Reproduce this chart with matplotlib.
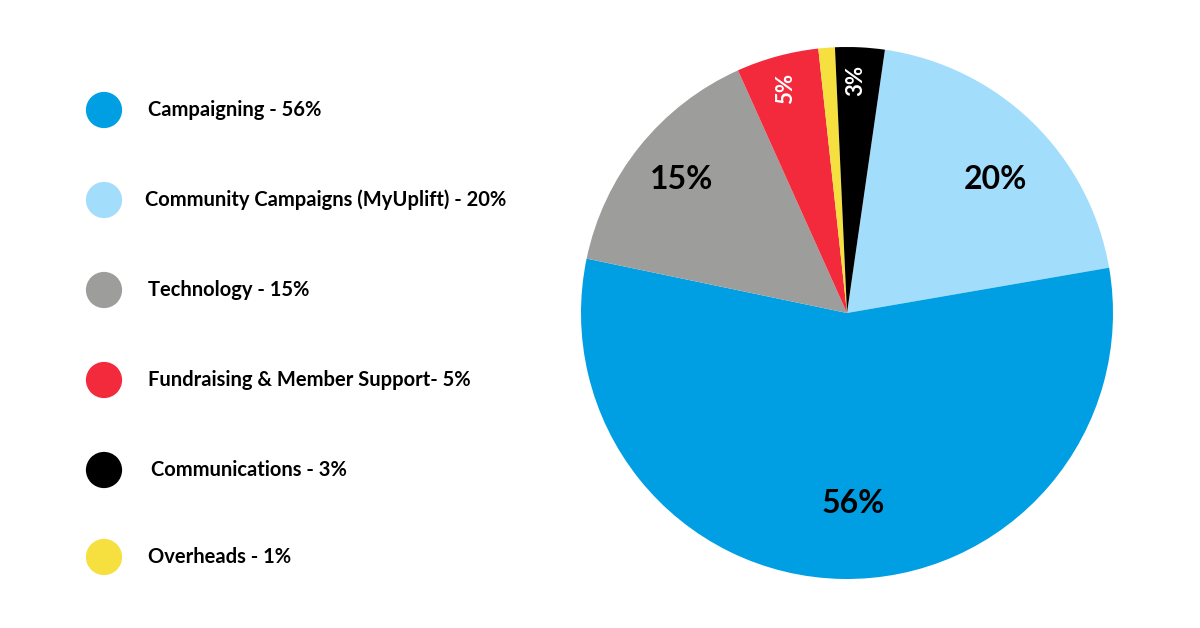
import numpy as np
import matplotlib.pyplot as plt

# slices, clockwise from the top
categories = ['Community Campaigns (MyUplift)', 'Campaigning', 'Technology',
              'Fundraising & Member Support', 'Overheads', 'Communications']
values = [20, 56, 15, 5, 1, 3]
colors = ['#A3DDFC', '#009FE3', '#9D9D9C', '#F22A3C', '#F5E03F', '#000000']

# legend order and text as shown on the left
legend_labels = ['Campaigning - 56%', 'Community Campaigns (MyUplift) - 20%',
                 'Technology - 15%', 'Fundraising & Member Support- 5%',
                 'Communications - 3%', 'Overheads - 1%']
legend_colors = ['#009FE3', '#A3DDFC', '#9D9D9C', '#F22A3C', '#000000', '#F5E03F']

plt.rcParams['font.family'] = ['Lato', 'DejaVu Sans']

W, H = 1200, 628
fig = plt.figure(figsize=(W / 100, H / 100), dpi=100)

# pie axes: centre (847, 313), radius 266 px
cx, cy, r = 847, 313, 266
ax = fig.add_axes([(cx - r) / W, (H - cy - r) / H, 2 * r / W, 2 * r / H])
wedges, texts, autotexts = ax.pie(values, colors=colors, startangle=81.8,
                                  counterclock=False, radius=1,
                                  autopct='%d%%', pctdistance=0.75,
                                  wedgeprops=dict(linewidth=0))
ax.set_xlim(-1, 1)
ax.set_ylim(-1, 1)
ax.set_aspect('equal')
ax.axis('off')

# label placement (distance from centre, angle in degrees)
dist = [0.75, 0.715, 0.80, 0.875, 0.0, 0.876]
ang = [42, -88.2, 141.2, 105.2, 0, 87.8]
for w, t, d, a in zip(wedges, autotexts, dist, ang):
    t.set_fontweight('bold')
    if d == 0:
        t.set_visible(False)
        continue
    t.set_position((d * np.cos(np.deg2rad(a)), d * np.sin(np.deg2rad(a))))
    if w.theta2 - w.theta1 < 25:
        t.set_rotation(90)
        t.set_fontsize(16)
        t.set_color('white')
    else:
        t.set_fontsize(23)
        t.set_color('black')

# legend drawn in pixel space
lax = fig.add_axes([0, 0, 1, 1])
lax.set_xlim(0, W)
lax.set_ylim(H, 0)
lax.axis('off')
ys = [110, 200, 290, 380, 470, 557]
xs = [148, 145, 148, 148, 151, 148]
for lab, col, y, x in zip(legend_labels, legend_colors, ys, xs):
    lax.scatter([104], [y], s=680, color=col, edgecolors='none')
    lax.text(x, y, lab, fontsize=14.5, fontweight='bold', va='center', ha='left')

fig.savefig('out.png', dpi=100, facecolor='white')
